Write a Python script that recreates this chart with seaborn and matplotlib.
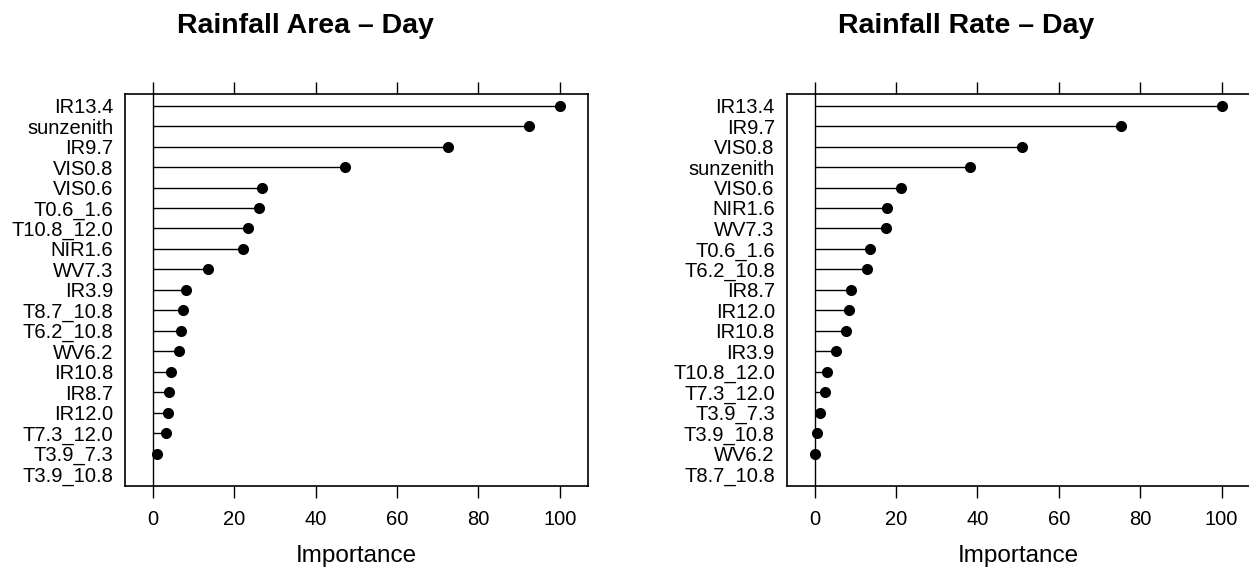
import numpy as np
import pandas as pd
import matplotlib
matplotlib.use("Agg")
import matplotlib.pyplot as plt
import seaborn as sns

# ---- data ----
area_vars = ["IR13.4", "sunzenith", "IR9.7", "VIS0.8", "VIS0.6", "T0.6_1.6",
             "T10.8_12.0", "NIR1.6", "WV7.3", "IR3.9", "T8.7_10.8", "T6.2_10.8",
             "WV6.2", "IR10.8", "IR8.7", "IR12.0", "T7.3_12.0", "T3.9_7.3", "T3.9_10.8"]
area_imp = [100.0, 92.5, 72.5, 47.1, 26.8, 26.1, 23.3, 22.1, 13.4, 8.1, 7.4, 6.8,
            6.4, 4.5, 3.8, 3.6, 3.3, 0.85, np.nan]

rate_vars = ["IR13.4", "IR9.7", "VIS0.8", "sunzenith", "VIS0.6", "NIR1.6", "WV7.3",
             "T0.6_1.6", "T6.2_10.8", "IR8.7", "IR12.0", "IR10.8", "IR3.9",
             "T10.8_12.0", "T7.3_12.0", "T3.9_7.3", "T3.9_10.8", "WV6.2", "T8.7_10.8"]
rate_imp = [100.0, 75.4, 51.0, 38.1, 21.3, 17.8, 17.4, 13.6, 12.8, 8.8, 8.4, 7.8, 5.2,
            3.0, 2.5, 1.2, 0.6, 0.0, np.nan]

titles = ["Rainfall Area \u2013 Day", "Rainfall Rate \u2013 Day"]
xticks = [0, 20, 40, 60, 80, 100]
xlabel = "Importance"

sns.set_style("white")
plt.rcParams["font.family"] = ["Liberation Sans", "DejaVu Sans"]
plt.rcParams["text.color"] = "black"
plt.rcParams["axes.labelcolor"] = "black"
plt.rcParams["xtick.color"] = "black"
plt.rcParams["ytick.color"] = "black"

W, H = 1249, 569
fig = plt.figure(figsize=(W / 100, H / 100), dpi=100)

ax_w = (588.3 - 125) / W
ax_b = 1 - 485.7 / H
ax_h = (485.7 - 94) / H
axes = [fig.add_axes([125 / W, ax_b, ax_w, ax_h]),
        fig.add_axes([786.7 / W, ax_b, ax_w, ax_h])]
title_x = [305 / W, 966 / W]

for ax, names, vals, title, tx in zip(axes, [area_vars, rate_vars], [area_imp, rate_imp], titles, title_x):
    df = pd.DataFrame({"var": names, "imp": vals})
    n = len(names)
    pos = np.arange(n)
    # stems from zero
    for p, v in zip(pos, vals):
        if not np.isnan(v):
            ax.plot([0, v], [p, p], color="black", lw=1.0, solid_capstyle="butt", zorder=2)
    ax.axvline(0, color="black", lw=1.0, zorder=2)
    sns.stripplot(data=df.dropna(), x="imp", y="var", order=names, orient="h",
                  jitter=False, color="black", size=8, linewidth=0, ax=ax, zorder=3)
    ax.set_xlim(-6.9, 107.0)
    ax.set_ylim(n - 1 + 0.57, -0.57)
    ax.set_xticks(xticks)
    ax.set_xticklabels([str(t) for t in xticks])
    ax.tick_params(axis="x", which="both", bottom=True, top=True, labelbottom=True,
                   labeltop=False, direction="out", length=8.5, width=1.0,
                   labelsize=14.5, pad=9, color="black", labelcolor="black")
    ax.tick_params(axis="y", left=False, length=0, labelsize=14.5, pad=8.6, labelcolor="black")
    ax.set_ylabel("")
    ax.set_xlabel(xlabel, fontsize=17.5, color="black")
    ax.xaxis.set_label_coords(0.5, (485.7 - 556) / (485.7 - 94))
    ax.xaxis.label.set_va("center")
    for s in ax.spines.values():
        s.set_visible(True)
        s.set_color("black")
        s.set_linewidth(1.2)
    fig.text(tx, 1 - 26 / H, title, ha="center", va="center", fontsize=20.5,
             fontweight="bold", color="black")

fig.savefig("out.png", dpi=100)
